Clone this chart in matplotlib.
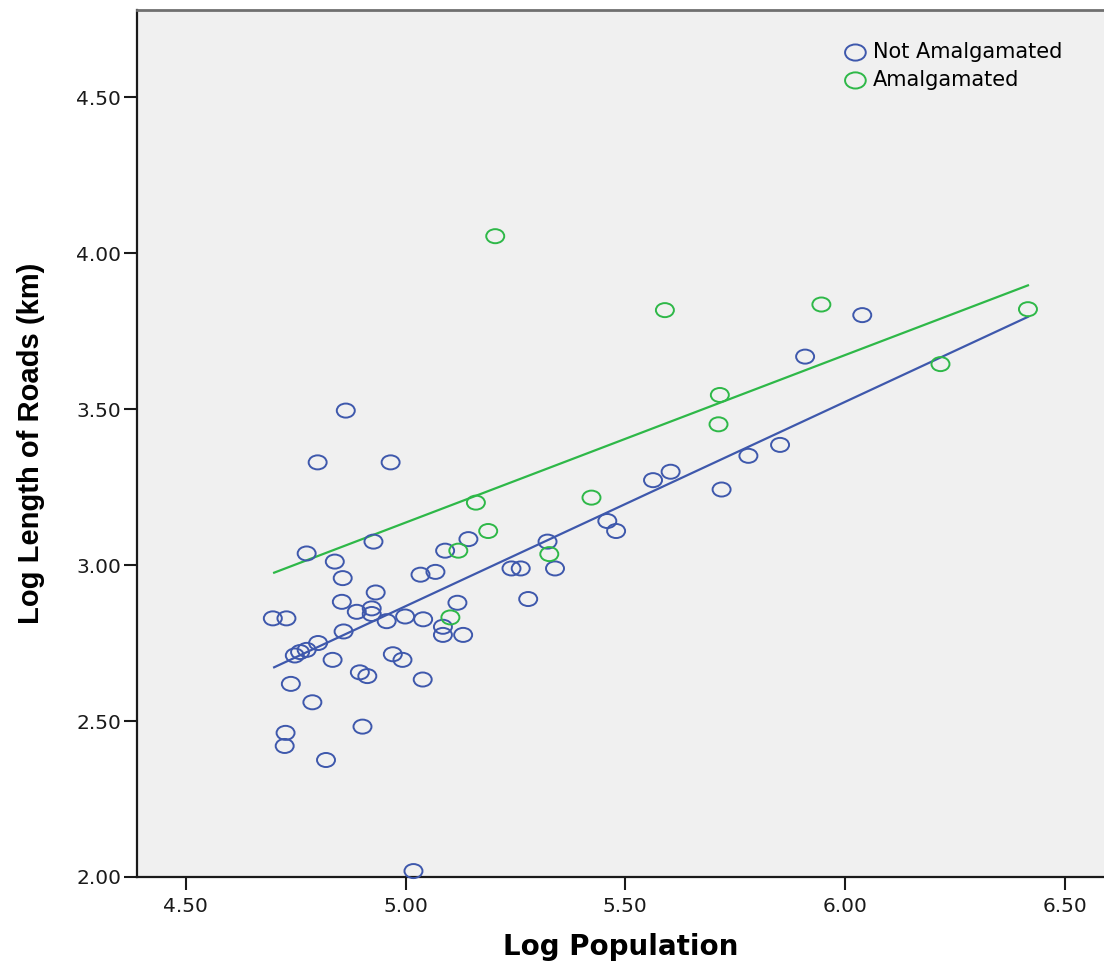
import numpy as np
import matplotlib
matplotlib.use("Agg")
import matplotlib.pyplot as plt
from matplotlib.path import Path

# Not Amalgamated (blue)
pop_not = [4.864, 4.800, 4.966, 4.775, 4.927, 4.839, 4.857, 4.932, 4.855, 5.090,
           5.143, 5.034, 5.068, 5.241, 5.262, 5.323, 5.340, 5.279, 5.118, 4.698,
           4.729, 4.889, 4.923, 4.923, 4.957, 4.999, 5.040, 5.085, 5.085, 5.131,
           4.859, 4.801, 4.775, 4.760, 4.748, 4.834, 4.971, 4.993, 4.896, 4.913,
           5.039, 4.739, 4.788, 4.727, 4.725, 4.902, 4.819, 5.018, 6.039, 5.909,
           5.852, 5.780, 5.603, 5.563, 5.719, 5.459, 5.479]
roads_not = [3.495, 3.329, 3.329, 3.037, 3.075, 3.011, 2.958, 2.912, 2.882, 3.046,
             3.083, 2.969, 2.978, 2.989, 2.989, 3.075, 2.989, 2.891, 2.879, 2.829,
             2.829, 2.850, 2.861, 2.843, 2.820, 2.835, 2.826, 2.802, 2.776, 2.776,
             2.787, 2.750, 2.728, 2.721, 2.710, 2.696, 2.714, 2.696, 2.656, 2.644,
             2.633, 2.619, 2.560, 2.462, 2.420, 2.482, 2.375, 2.019, 3.801, 3.668,
             3.385, 3.350, 3.299, 3.272, 3.242, 3.141, 3.109]

# Amalgamated (green)
pop_am = [5.204, 5.590, 5.946, 6.416, 6.217, 5.715, 5.712, 5.423, 5.160, 5.188,
          5.120, 5.327, 5.102]
roads_am = [4.054, 3.817, 3.835, 3.820, 3.644, 3.545, 3.451, 3.216, 3.200, 3.109,
            3.046, 3.035, 2.832]

# fit lines (intercept, slope) and x range
fit_not = (-0.407, 0.655)
fit_am = (0.451, 0.537)
fit_range = [4.701, 6.416]

x_ticks = [4.5, 5.0, 5.5, 6.0, 6.5]
y_ticks = [2.0, 2.5, 3.0, 3.5, 4.0, 4.5]

blue = "#3E58AC"
green = "#2EB848"

# slightly flattened open circle, like the source image
circ = Path.unit_circle()
ellipse = Path(circ.vertices * np.array([1.0, 0.78]), circ.codes)

fig = plt.figure(figsize=(11.04, 9.68), dpi=100)
ax = fig.add_axes([137 / 1104, 91 / 968, 1 - 137 / 1104, (958 - 91) / 968])
ax.set_facecolor("#F0F0F0")

xs = np.array(fit_range)
ax.plot(xs, fit_am[0] + fit_am[1] * xs, color=green, lw=1.6, zorder=2)
ax.plot(xs, fit_not[0] + fit_not[1] * xs, color=blue, lw=1.6, zorder=2)

ax.scatter(pop_not, roads_not, s=168, marker=ellipse, facecolors="none",
           edgecolors=blue, linewidths=1.4, clip_on=False, zorder=3,
           label="Not Amalgamated")
ax.scatter(pop_am, roads_am, s=168, marker=ellipse, facecolors="none",
           edgecolors=green, linewidths=1.4, clip_on=False, zorder=3,
           label="Amalgamated")

ax.set_xlim(4.389, 6.589)
ax.set_ylim(2.0, 4.779)
ax.set_xticks(x_ticks)
ax.set_yticks(y_ticks)
ax.set_xticklabels(["%.2f" % v for v in x_ticks])
ax.set_yticklabels(["%.2f" % v for v in y_ticks])
ax.tick_params(axis="both", direction="out", length=9.5, width=1.5,
               labelsize=14.5, colors="#1a1a1a")
ax.tick_params(axis="x", pad=5)
ax.tick_params(axis="y", pad=2)

for side in ["left", "bottom"]:
    ax.spines[side].set_linewidth(1.6)
    ax.spines[side].set_color("#1a1a1a")
ax.spines["top"].set_color("#707070")
ax.spines["top"].set_linewidth(2)
ax.spines["right"].set_visible(False)

ax.set_xlabel("Log Population", fontsize=20, fontweight="bold",
              family="DejaVu Sans", labelpad=12)
ax.set_ylabel("Log Length of Roads (km)", fontsize=21, fontweight="bold",
              family="Liberation Sans", labelpad=22)

leg = ax.legend(loc="upper left", bbox_to_anchor=(845 / 1104, 1 - 42 / 968),
                bbox_transform=fig.transFigure, frameon=False, fontsize=15,
                handlelength=1.0, handletextpad=0.35, borderpad=0,
                borderaxespad=0, labelspacing=0.38, markerscale=1.15)

fig.savefig("out.png", dpi=100)
